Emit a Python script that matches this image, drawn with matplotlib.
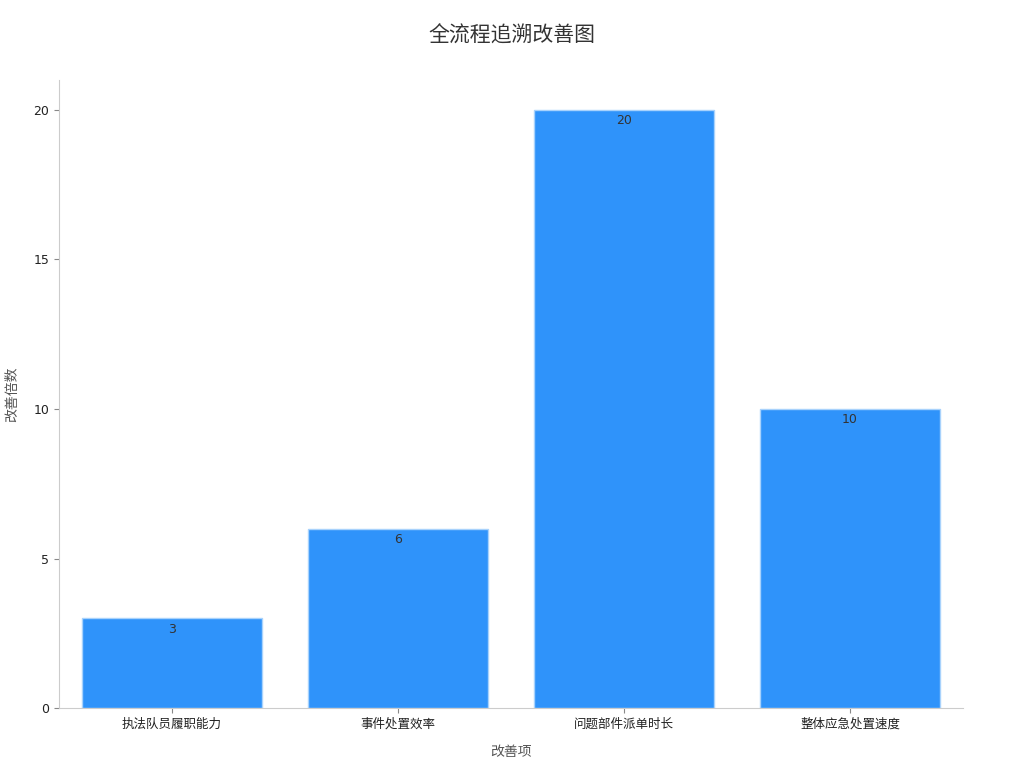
import matplotlib
matplotlib.use("Agg")
import matplotlib.pyplot as plt

plt.rcParams['font.family'] = ['DejaVu Sans', 'Noto Sans CJK SC']

categorias = ["执法队员履职能力", "事件处置效率", "问题部件派单时长", "整体应急处置速度"]
valores = [3, 6, 20, 10]
cor_barra = "#2f93fa"

fig = plt.figure(figsize=(10.24, 7.68), dpi=100)
ax = fig.add_axes([0.0576, 0.078, 0.8828, 0.818])

barras = ax.bar(range(len(categorias)), valores, width=0.8, color=cor_barra,
                edgecolor="#a8d2fc", linewidth=1)

# rótulos dentro do topo das barras
for i, v in enumerate(valores):
    ax.annotate(str(v), (i, v), xytext=(0, -3), textcoords="offset points",
                ha="center", va="top", fontsize=9, color="#333333")

ax.set_xlim(-0.5, 3.5)
ax.set_ylim(0, 21)
ax.set_xticks(range(len(categorias)))
ax.set_xticklabels(categorias, family=['Noto Sans CJK SC', 'DejaVu Sans'])
ax.set_yticks([0, 5, 10, 15, 20])

for lado in ["top", "right"]:
    ax.spines[lado].set_visible(False)
for lado in ["left", "bottom"]:
    ax.spines[lado].set_color("#cccccc")

ax.tick_params(axis="both", colors="#888888", labelcolor="#222222", labelsize=9)

ax.set_xlabel("改善项", fontsize=10, color="#555555", labelpad=10,
              family=['Noto Sans CJK SC', 'DejaVu Sans'])
ax.set_ylabel("改善倍数", fontsize=10, color="#555555", labelpad=10,
              family=['Noto Sans CJK SC', 'DejaVu Sans'])
fig.suptitle("全流程追溯改善图", fontsize=15, color="#333333", y=0.968,
             family=['Noto Sans CJK SC', 'DejaVu Sans'])

fig.savefig("out.png", dpi=100)
